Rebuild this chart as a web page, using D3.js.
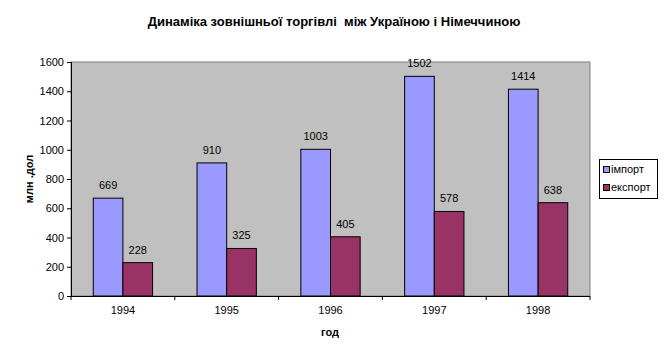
<!DOCTYPE html>
<html><head><meta charset="utf-8">
<script src="https://cdn.jsdelivr.net/npm/d3@7"></script>
<style>body{margin:0;background:#fff}svg{display:block;font-family:"Liberation Sans",Arial,sans-serif}</style>
</head><body><svg id="c" width="668" height="360"></svg>
<script>
const years = ["1994","1995","1996","1997","1998"];
const importVals = [669, 910, 1003, 1502, 1414];
const exportVals = [228, 325, 405, 578, 638];
const seriesNames = ["імпорт","експорт"];
const seriesColors = ["#9999FF","#993366"];
const yTicks = [0,200,400,600,800,1000,1200,1400,1600];

const svg = d3.select("#c");
const L=71, R=590, T=62, B=296;
const x = d3.scaleBand().domain(years).range([L,R]).paddingInner(0).paddingOuter(0);
const y = d3.scaleLinear().domain([0,1600]).range([B,T]);
const bw = x.bandwidth()/3.5;
const series = [importVals, exportVals];

svg.append("rect").attr("x",L).attr("y",T).attr("width",R-L).attr("height",B-T)
  .attr("fill","#C0C0C0").attr("stroke","#808080").attr("stroke-width",1);

series.forEach((vals,si)=>{
  svg.append("g").selectAll("rect").data(vals).join("rect")
    .attr("x",(d,i)=>x(years[i])+0.75*bw+si*bw)
    .attr("y",d=>y(d)).attr("width",bw).attr("height",d=>B-y(d))
    .attr("fill",seriesColors[si]).attr("stroke","#000").attr("stroke-width",1);
  svg.append("g").selectAll("text").data(vals).join("text")
    .attr("x",(d,i)=>x(years[i])+0.75*bw+si*bw+bw/2)
    .attr("y",d=>y(d)-9).attr("text-anchor","middle")
    .attr("font-size",11).attr("fill","#000").text(d=>d);
});

const ya = svg.append("g").attr("transform",`translate(${L},0)`)
  .call(d3.axisLeft(y).tickValues(yTicks).tickSize(4).tickPadding(3).tickFormat(d3.format("d")));
ya.selectAll("text").attr("font-size",11).attr("font-family","Liberation Sans, Arial").attr("fill","#000");
ya.selectAll("line,path").attr("stroke","#000");

const xa = svg.append("g").attr("transform",`translate(0,${B})`)
  .call(d3.axisBottom(x).tickSize(0).tickPadding(10));
xa.selectAll("text").attr("font-size",11).attr("font-family","Liberation Sans, Arial").attr("fill","#000");
xa.select("path").attr("stroke","#000").attr("d",`M${L},0.5H${R}`);
xa.selectAll("line").remove();
xa.selectAll(".bound").data(d3.range(years.length+1)).join("line")
  .attr("x1",i=>L+i*x.bandwidth()).attr("x2",i=>L+i*x.bandwidth())
  .attr("y1",0).attr("y2",4).attr("stroke","#000");

svg.append("text").attr("x",334).attr("y",26).attr("text-anchor","middle")
  .attr("font-size",13).attr("font-weight","bold").text("Динаміка зовнішньої торгівлі  між Україною і Німеччиною")
  .attr("xml:space","preserve").style("white-space","pre");
svg.append("text").attr("x",330).attr("y",336).attr("text-anchor","middle")
  .attr("font-size",11).attr("font-weight","bold").text("год");
svg.append("text").attr("transform","translate(33,179) rotate(-90)").attr("text-anchor","middle")
  .attr("font-size",11).attr("font-weight","bold").text("млн .дол");

const lg = svg.append("g");
lg.append("rect").attr("x",599.5).attr("y",159.5).attr("width",58).attr("height",39)
  .attr("fill","#fff").attr("stroke","#000");
seriesNames.forEach((n,i)=>{
  lg.append("rect").attr("x",603.5).attr("y",166.5+i*18).attr("width",6).attr("height",6)
    .attr("fill",seriesColors[i]).attr("stroke","#000");
  lg.append("text").attr("x",611).attr("y",173+i*18).attr("font-size",11).text(n);
});
</script></body></html>
